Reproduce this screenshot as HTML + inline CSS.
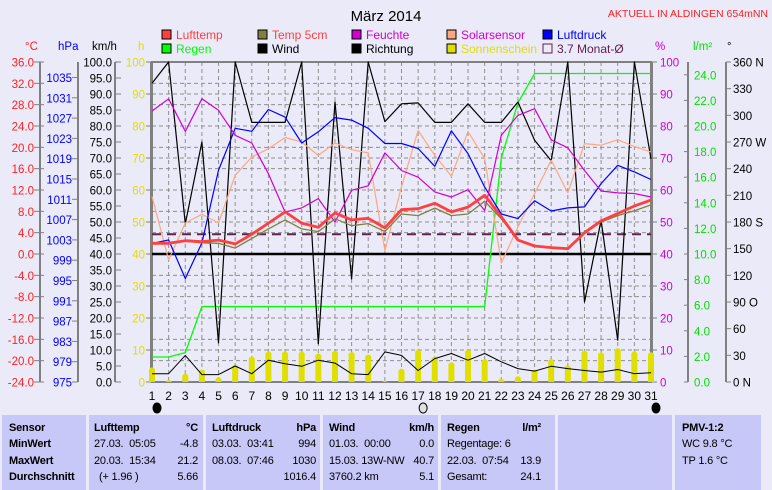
<!DOCTYPE html>
<html><head><meta charset="utf-8">
<style>
html,body{margin:0;padding:0;background:#eaeaf8;}
body{width:772px;height:490px;overflow:hidden;position:relative;font-family:"Liberation Sans",sans-serif;}
svg{position:absolute;left:0;top:0;}
.tbl{position:absolute;left:0;top:415px;width:772px;height:75px;background:#eaeaf8;}
.col{position:absolute;top:0;height:75px;background:#c8c8f8;font-size:11px;color:#000;letter-spacing:-0.2px;}
.col div{position:absolute;white-space:nowrap;}
.b{font-weight:bold;}
</style></head><body>
<svg id="chart" width="772" height="415"></svg>
<div class="tbl">
 <div class="col" style="left:2px;width:84px">
  <div class="b" style="left:7px;top:7px">Sensor</div>
  <div class="b" style="left:7px;top:23px">MinWert</div>
  <div class="b" style="left:7px;top:40px">MaxWert</div>
  <div class="b" style="left:7px;top:56px">Durchschnitt</div>
 </div>
 <div class="col" style="left:89px;width:114px">
  <div class="b" style="left:5px;top:7px">Lufttemp</div><div class="b" style="right:5px;top:7px">°C</div>
  <div style="left:5px;top:23px">27.03.&nbsp; 05:05</div><div style="right:5px;top:23px">-4.8</div>
  <div style="left:5px;top:40px">20.03.&nbsp; 15:34</div><div style="right:5px;top:40px">21.2</div>
  <div style="left:10px;top:56px">(+ 1.96 )</div><div style="right:5px;top:56px">5.66</div>
 </div>
 <div class="col" style="left:206px;width:114px">
  <div class="b" style="left:6px;top:7px">Luftdruck</div><div class="b" style="right:4px;top:7px">hPa</div>
  <div style="left:6px;top:23px">03.03.&nbsp; 03:41</div><div style="right:4px;top:23px">994</div>
  <div style="left:6px;top:40px">08.03.&nbsp; 07:46</div><div style="right:4px;top:40px">1030</div>
  <div style="right:4px;top:56px">1016.4</div>
 </div>
 <div class="col" style="left:323px;width:115px">
  <div class="b" style="left:6px;top:7px">Wind</div><div class="b" style="right:4px;top:7px">km/h</div>
  <div style="left:6px;top:23px">01.03.&nbsp; 00:00</div><div style="right:4px;top:23px">0.0</div>
  <div style="left:6px;top:40px">15.03.&nbsp;13W-NW</div><div style="right:4px;top:40px">40.7</div>
  <div style="left:6px;top:56px">3760.2 km</div><div style="right:4px;top:56px">5.1</div>
 </div>
 <div class="col" style="left:441px;width:114px">
  <div class="b" style="left:6px;top:7px">Regen</div><div class="b" style="right:14px;top:7px">l/m²</div>
  <div style="left:6px;top:23px">Regentage: 6</div>
  <div style="left:6px;top:40px">22.03.&nbsp; 07:54</div><div style="right:14px;top:40px">13.9</div>
  <div style="left:6px;top:56px">Gesamt:</div><div style="right:14px;top:56px">24.1</div>
 </div>
 <div class="col" style="left:558px;width:114px"></div>
 <div class="col" style="left:675px;width:86px">
  <div class="b" style="left:7px;top:7px">PMV-1:2</div>
  <div style="left:7px;top:23px">WC 9.8 °C</div>
  <div style="left:7px;top:40px">TP 1.6 °C</div>
 </div>
</div>
<script>
const days=[1,2,3,4,5,6,7,8,9,10,11,12,13,14,15,16,17,18,19,20,21,22,23,24,25,26,27,28,29,30,31];
const lufttemp=[2.0,2.0,2.5,2.3,2.6,1.9,3.7,5.8,7.9,5.8,5.0,7.7,6.4,6.7,4.9,8.3,8.5,9.5,7.9,8.8,11.0,7.0,2.6,1.5,1.2,1.0,4.0,6.2,7.6,9.0,10.1];
const temp5cm=[2.0,2.2,2.4,2.1,2.0,1.1,2.9,4.7,6.4,4.7,4.2,6.6,5.3,5.7,4.2,7.5,7.2,8.6,7.2,7.5,9.9,6.6,2.7,1.5,1.2,0.9,3.9,6.0,7.2,8.1,9.2];
const feuchte=[84.7,88.5,78.3,88.5,84.9,77.1,74.7,65.1,53.1,54.4,57.3,50,59.9,61.3,71.6,66.1,64,59.4,57.8,60.1,53.6,77.1,83.3,85.4,75.7,73.2,66.1,59.7,59.1,58.9,57.8];
const solar=[58,38.2,49.7,52.4,49.7,64.6,70.3,72.9,76.4,75,70.8,74.7,72.6,71.6,41.1,61,78.6,70.8,64.3,78.3,69.8,37.2,48.4,58.9,69.3,59.1,74.5,74,75.7,73.6,71.9];
const luftdruck=[1002.3,1003,995.4,1002.4,1016.7,1025,1024.4,1028.7,1027.2,1022.1,1024.3,1027.1,1026.6,1025,1022,1022,1021,1017.5,1024.5,1020,1013.4,1008.1,1007.2,1010.7,1008.7,1009.3,1009.5,1014.1,1017.7,1016.4,1014.9];
const windSpeed=[2.6,2.6,8.3,2.3,2.3,5,2.6,6.8,5.7,4.9,6.8,5.9,2.6,2.3,9.4,8.3,3.6,7.3,8.9,6.8,8.9,6.3,4.2,3.4,4.9,4.2,3.6,3.1,3.9,2.6,2.9];
const windDir=[336,360,178,270,44,360,292,292,292,360,43,315,116,360,293,313,314,292,292,313,292,292,315,272,249,360,90,182,47,360,251];
const sonne=[4.9,1,2.9,4.2,1.8,5.7,8.3,9.9,9.9,9.9,9.2,10.1,9.7,8.9,0.7,4.5,10.4,8.3,6.5,10.4,7.5,1.4,2.1,4.2,7.5,5.5,10.1,9.6,10.9,9.9,9.6];
const regen=[1.95,1.95,2.3,5.9,5.9,5.9,5.9,5.9,5.9,5.9,5.9,5.9,5.9,5.9,5.9,5.9,5.9,5.9,5.9,5.9,5.9,17.5,21.8,24.1,24.1,24.1,24.1,24.1,24.1,24.1,24.1];
const monthAvg=3.7;
const tempTicks=[36,32,28,24,20,16,12,8,4,0,-4,-8,-12,-16,-20,-24];
const hpaTicks=[1035,1031,1027,1023,1019,1015,1011,1007,1003,999,995,991,987,983,979,975];
const kmhTicks=[100,95,90,85,80,75,70,65,60,55,50,45,40,35,30,25,20,15,10,5,0];
const hTicks=[100,90,80,70,60,50,40,30,20,10,0];
const pctTicks=[100,90,80,70,60,50,40,30,20,10,0];
const rainTicks=[24,22,20,18,16,14,12,10,8,6,4,2,0];
const dirTicks=[360,330,300,270,240,210,180,150,120,90,60,30,0];
const dirNames={360:" N",270:" W",180:" S",90:"  O",0:"   N"};

const X0=152,X1=651,Y0=62,Y1=382;
const NS="http://www.w3.org/2000/svg";
const svg=document.getElementById('chart');
const xD=d=>X0+(d-1)*(X1-X0)/30;
const yP=v=>Y1-v*(Y1-Y0)/100;
const yT=t=>yP((t+24)/60*100);
const yH=p=>Y1-(p-975)*5.075;
const yR=r=>yP(r/25*100);
const yDir=a=>yP(a/3.6);
function el(t,a,p){const e=document.createElementNS(NS,t);for(const k in a)e.setAttribute(k,a[k]);(p||svg).appendChild(e);return e;}
function txt(x,y,s,a){const e=el('text',Object.assign({x:x,y:y,'font-size':12,'font-family':'Liberation Sans, sans-serif'},a||{}));e.textContent=s;return e;}

let t=txt(386,21,'März 2014',{'font-size':15,'text-anchor':'middle',fill:'#000'});


t=txt(768,17,'AKTUELL IN ALDINGEN 654mNN',{'font-size':10.5,'text-anchor':'end',fill:'#ff2020'});



const leg=[['Lufttemp','#ff4040','#ff4040',162,38],['Temp 5cm','#808040','#ff4040',258,38],['Feuchte','#d000d0','#d000d0',352,38],['Solarsensor','#ffa880','#d000d0',447,38],['Luftdruck','#0000ff','#0000ff',543,38],
['Regen','#00ff00','#00ff00',162,52],['Wind','#000','#000',258,52],['Richtung','#000','#000',352,52],['Sonnenschein','#e0e000','#e0e000',447,52],['3.7 Monat-Ø','none','#602050',543,52]];
leg.forEach(l=>{const g=el('g',{});


el('rect',{x:l[3],y:l[4]-8,width:9,height:9,fill:l[1],stroke:l[1]==='none'?'#602050':'#000','stroke-width':1},g);
const tt=txt(l[3]+14,l[4]+1,l[0],{fill:l[2],'font-size':12});g.appendChild(tt);});

[['°C',25,'#ff2020'],['hPa',58,'#0000ff'],['km/h',92,'#000'],['h',138,'#e0e000'],['%',655,'#d000d0'],['l/m²',693,'#00e000'],['°',727,'#000']].forEach(h=>{const e=txt(h[1],50,h[0],{fill:h[2],'font-size':11.5});

});

const grid=el('g',{stroke:'#909090','stroke-width':1,'stroke-dasharray':'4,3'});


pctTicks.forEach(v=>{if(v>0&&v<100)el('line',{x1:X0,x2:X1,y1:yP(v),y2:yP(v)},grid);});
tempTicks.forEach(v=>{if(v<36&&v>-24)el('line',{x1:X0,x2:X1,y1:yT(v),y2:yT(v)},grid);});
days.forEach(d=>{if(d>1&&d<31)el('line',{x1:xD(d),x2:xD(d),y1:Y0,y2:Y1},grid);});

function axis(name,x,y1,y2,ticks,yf,tx1,tx2,lx,anchor,color,fmt){const g=el('g',{});


el('line',{x1:x,x2:x,y1:y1,y2:y2,stroke:'#808080','stroke-width':2},g);
ticks.forEach(v=>{const y=yf(v);el('line',{x1:tx1,x2:tx2,y1:y,y2:y,stroke:'#808080'},g);g.appendChild(txt(lx,y+4.5,fmt(v),{fill:color,'text-anchor':anchor,'font-size':11.5}));});}
axis('temp-axis',40,Y0,Y1,tempTicks,yT,34,44,34,'end','#ff2020',v=>v.toFixed(1));
axis('hpa-axis',78,Y0,Y1,hpaTicks,yH,72,78,72,'end','#0000ff',v=>String(v));
axis('kmh-axis',115,Y0,Y1,kmhTicks,yP,115,121,112,'end','#000',v=>v.toFixed(1));
axis('sun-axis',151,Y0,Y1,hTicks,yP,146,151,145,'end','#e0e000',v=>String(v));
axis('humidity-axis',652,Y0,Y1,pctTicks,yP,652,657,660,'start','#d000d0',v=>String(v));
axis('rain-axis',688,Y0,Y1,rainTicks,yR,684,688,694,'start','#00e000',v=>v.toFixed(1));
axis('direction-axis',726,Y0,Y1,dirTicks,yDir,726,731,733,'start','#000',v=>v+(dirNames[v]||''));
el('rect',{x:X0,y:Y0,width:X1-X0,height:Y1-Y0,fill:'none',stroke:'#808080','stroke-width':2});

days.forEach(d=>{const e=txt(xD(d),400,String(d),{'text-anchor':'middle','font-size':12,fill:'#000'});

});
[[1,'#000'],[17,'#e0e0e0'],[31,'#000']].forEach(m=>{const e=el('ellipse',{cx:xD(m[0])+5,cy:408,rx:4,ry:5,fill:m[1],stroke:'#000'});

});

sonne.forEach((v,i)=>{const x=xD(days[i]);const y=yP(v);const b=el('path',{d:`M${x-3},${Y1} L${x-3},${y+3} Q${x},${y-1} ${x+3},${y+3} L${x+3},${Y1} Z`,fill:'#e0e000'});

});

let r=el('line',{x1:X0,x2:X1,y1:yT(0),y2:yT(0),stroke:'#000','stroke-width':2.5});


r=el('line',{x1:X0,x2:X1,y1:yT(monthAvg),y2:yT(monthAvg),stroke:'#602050','stroke-width':2,'stroke-dasharray':'9,6'});



function series(name,vals,yf,color,w){const pts=vals.map((v,i)=>xD(days[i]).toFixed(1)+','+yf(v).toFixed(1)).join(' ');
const p=el('polyline',{points:pts,fill:'none',stroke:color,'stroke-width':w,'stroke-linejoin':'round'});

}
series('rain-line',regen,yR,'#00ff00',1.3);
series('wind-direction-line',windDir,yDir,'#000',1.2);
series('wind-speed-line',windSpeed,yP,'#000',1);
series('solar-line',solar,yP,'#ffa880',1.2);
series('pressure-line',luftdruck,yH,'#0000ff',1.2);
series('humidity-line',feuchte,yP,'#d000d0',1.2);
series('soil-temp-line',temp5cm,yT,'#808040',1.3);
series('air-temp-line',lufttemp,yT,'#ff4040',2.8);
</script>
</body></html>
